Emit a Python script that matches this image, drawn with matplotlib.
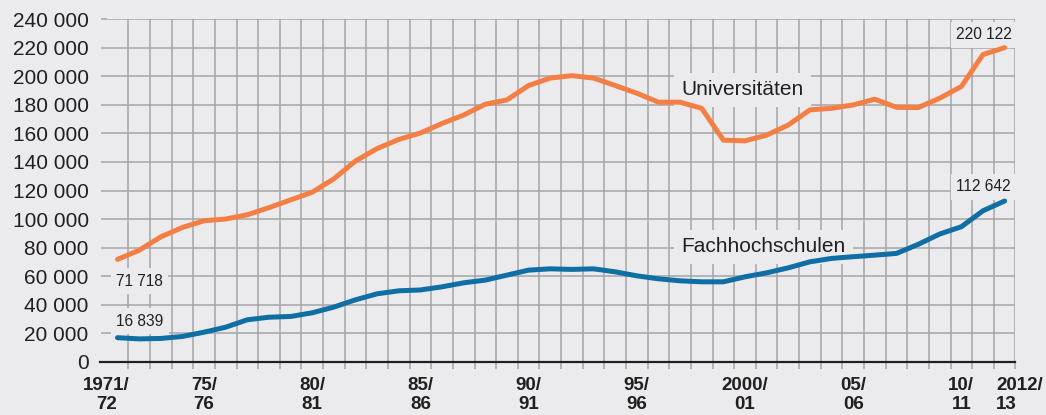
import matplotlib.pyplot as plt
import numpy as np

# --- Daten ---
jahre = [f"{j}/{(j + 1) % 100:02d}" for j in range(1971, 2013)]

universitaeten = [71718, 78100, 87500, 94100, 98800, 100000, 103000, 108000, 113400, 118800,
                  128200, 140700, 149400, 155800, 160300, 167000, 172900, 180500, 183500, 193600,
                  198800, 200500, 198800, 193600, 188200, 181900, 181900, 177600, 155300, 154800,
                  158800, 165900, 176500, 177600, 180000, 184000, 178300, 178100, 184700, 192900,
                  215300, 220122]

fachhochschulen = [16839, 16000, 16300, 17700, 20700, 24200, 29400, 31200, 31700, 34300,
                   38300, 43400, 47600, 49700, 50300, 52500, 55300, 57200, 60700, 64200,
                   65100, 64700, 65100, 63000, 60200, 58100, 56700, 56000, 56000, 59500,
                   62300, 65800, 70000, 72400, 73600, 74700, 75900, 82200, 89500, 94600,
                   105800, 112642]

x_labels = ["1971/\n72", "75/\n76", "80/\n81", "85/\n86", "90/\n91", "95/\n96",
            "2000/\n01", "05/\n06", "10/\n11", "2012/\n13"]
y_ticks = list(range(0, 240001, 20000))

# --- Farben ---
bg = "#ebebed"
grid_col = "#a5a5a7"
text_col = "#231f20"
orange = "#f47f44"
blue = "#0f6ea3"

plt.rcParams['font.family'] = ['Liberation Sans', 'DejaVu Sans']

fig = plt.figure(figsize=(10.46, 4.15), dpi=100, facecolor=bg)
ax = fig.add_axes([0.102, 0.1284, 0.8688, 0.8251], facecolor=bg)

x = np.arange(len(jahre))
ax.plot(x, universitaeten, color=orange, lw=3.6, solid_capstyle='round', solid_joinstyle='round', zorder=3)
ax.plot(x, fachhochschulen, color=blue, lw=3.6, solid_capstyle='round', solid_joinstyle='round', zorder=3)

ax.set_xlim(-0.5, len(jahre) - 0.5)
ax.set_ylim(0, 240000)

# Gitter: vertikal an den Jahresgrenzen, horizontal alle 20 000
ax.set_xticks(np.arange(-0.5, len(jahre), 1.0), minor=True)
ax.set_yticks(y_ticks)
ax.set_yticklabels([f"{v:,}".replace(",", " ") for v in y_ticks])
ax.grid(which='minor', axis='x', color=grid_col, lw=1.1)
ax.grid(which='major', axis='y', color=grid_col, lw=1.1)
ax.tick_params(axis='x', which='minor', direction='out', length=5, width=1.1, color=grid_col)
ax.tick_params(axis='y', which='major', direction='out', length=4.5, width=1.1, color=grid_col,
               pad=8.5, labelsize=15, labelcolor=text_col)

# x-Beschriftungen (erste zentriert auf der Grenze, letzte linksbündig)
label_idx = [0, 4, 9, 14, 19, 24, 29, 34, 39, 41]
label_pos = [i for i in label_idx]
label_pos[0] = -0.5
label_pos[-1] = 40.6
ax.set_xticks(label_pos)
ax.set_xticklabels(x_labels, fontsize=13.5, fontweight='bold', color=text_col, linespacing=1.15)
ax.tick_params(axis='x', which='major', length=0, pad=11)
last = ax.get_xticklabels()[-1]
last.set_ha('left')
last.set_multialignment('left')

for s in ax.spines.values():
    s.set_visible(False)
ax.axhline(0, xmin=-0.0075, xmax=1, color=text_col, lw=1.6, clip_on=False, zorder=2.2)

# Beschriftungen (Kästen über dem Gitter, unter den Linien)
box = dict(boxstyle='square,pad=0.35', facecolor=bg, edgecolor='none')
ax.text(26.07, 190500, "Universitäten", fontsize=15, color=text_col, ha='left', va='center', bbox=box, zorder=2)
ax.text(26.07, 80500, "Fachhochschulen", fontsize=15, color=text_col, ha='left', va='center', bbox=box, zorder=2)
ax.text(-0.07, 56300, "71 718", fontsize=11.2, color=text_col, ha='left', va='center', bbox=box, zorder=2)
ax.text(-0.07, 28300, "16 839", fontsize=11.2, color=text_col, ha='left', va='center', bbox=box, zorder=2)
ax.text(38.76, 229000, "220 122", fontsize=11.2, color=text_col, ha='left', va='center', bbox=box, zorder=2)
ax.text(38.76, 122700, "112 642", fontsize=11.2, color=text_col, ha='left', va='center', bbox=box, zorder=2)

plt.savefig('out.png', dpi=100, facecolor=bg)
